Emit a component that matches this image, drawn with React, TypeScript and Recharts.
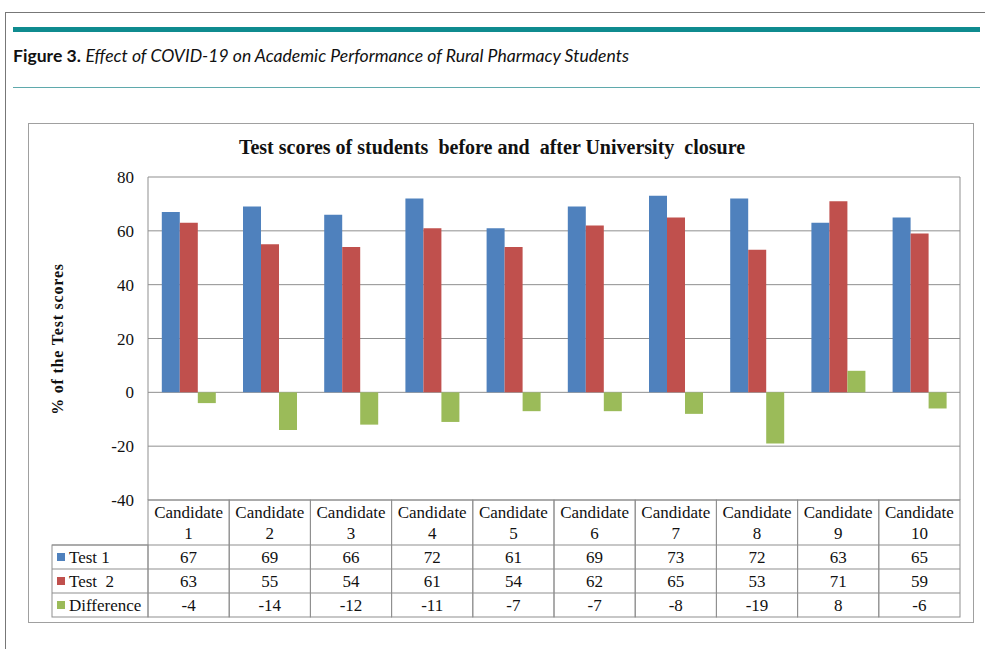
import {Bar, BarChart, CartesianGrid, XAxis, YAxis} from 'recharts';

const candidates = ['Candidate 1', 'Candidate 2', 'Candidate 3', 'Candidate 4', 'Candidate 5', 'Candidate 6', 'Candidate 7', 'Candidate 8', 'Candidate 9', 'Candidate 10'];
const test1 = [67, 69, 66, 72, 61, 69, 73, 72, 63, 65];
const test2 = [63, 55, 54, 61, 54, 62, 65, 53, 71, 59];
const difference = [-4, -14, -12, -11, -7, -7, -8, -19, 8, -6];
const yTicks = [-40, -20, 0, 20, 40, 60, 80];
const seriesNames = ['Test 1', 'Test  2', 'Difference'];
const seriesColors = ['#4f81bd', '#c0504d', '#9bbb59'];
const seriesValues = [test1, test2, difference];

const data = candidates.map((name, i) => ({
    name,
    test1: test1[i],
    test2: test2[i],
    difference: difference[i],
}));

const W = 985;
const H = 649;
const PLOT_LEFT = 148;
const PLOT_RIGHT = 960;
const PLOT_TOP = 177;
const PLOT_BOTTOM = 500;
const TABLE_H = 117;
const HEADER_H = 45;
const ROW_H = 24;
const YAXIS_W = 60;
const COL_W = (PLOT_RIGHT - PLOT_LEFT) / candidates.length;
const GRID = '#8f8f8f';
const SERIF = '"Liberation Serif", "Times New Roman", serif';

function TableTick(props: any) {
    const {x, y, payload} = props;
    const i = candidates.indexOf(payload.value);
    const left = x - COL_W / 2;
    const [word, num] = String(payload.value).split(' ');
    const txt = {fontFamily: SERIF, fontSize: 17, fill: '#111', textAnchor: 'middle' as const};
    return (
        <g>
            <rect x={left} y={y} width={COL_W} height={HEADER_H + ROW_H * 3} fill="none" stroke={GRID} />
            {[0, 1, 2].map(r => (
                <line key={r} x1={left} x2={left + COL_W} y1={y + HEADER_H + ROW_H * r} y2={y + HEADER_H + ROW_H * r} stroke={GRID} />
            ))}
            <text x={x} y={y + 18} {...txt}>{word}</text>
            <text x={x} y={y + 39} {...txt}>{num}</text>
            {seriesValues.map((vals, r) => (
                <text key={r} x={x} y={y + HEADER_H + ROW_H * r + 18} {...txt}>{vals[i]}</text>
            ))}
        </g>
    );
}

function Decorations() {
    const legendLeft = 52;
    const rowsTop = PLOT_BOTTOM + HEADER_H;
    return (
        <svg width={W} height={H} style={{position: 'absolute', left: 0, top: 0}}>
            <line x1={5} x2={W} y1={12.5} y2={12.5} stroke="#777" />
            <line x1={5.5} x2={5.5} y1={12} y2={H} stroke="#777" />
            <rect x={13} y={27} width={967} height={5} fill="#0f8b8f" />
            <line x1={13} x2={980} y1={87.5} y2={87.5} stroke="#5fa9ac" />
            <rect x={28.5} y={123.5} width={945} height={499} fill="none" stroke="#a0a0a0" />
            <text x={492} y={154} textAnchor="middle" fontFamily={SERIF} fontWeight="bold" fontSize={20} fill="#111" style={{whiteSpace: 'pre'}}>
                Test scores of students  before and  after University  closure
            </text>
            <text transform="translate(63,339) rotate(-90)" textAnchor="middle" fontFamily={SERIF} fontWeight="bold" fontSize={16} letterSpacing={0.8} fill="#111">
                % of the Test scores
            </text>
            <g>
                <rect x={legendLeft} y={rowsTop} width={PLOT_LEFT - legendLeft} height={ROW_H * 3} fill="none" stroke={GRID} />
                {seriesNames.map((n, r) => (
                    <g key={n}>
                        <line x1={legendLeft} x2={PLOT_LEFT} y1={rowsTop + ROW_H * r} y2={rowsTop + ROW_H * r} stroke={GRID} />
                        <rect x={legendLeft + 5} y={rowsTop + ROW_H * r + 8} width={8} height={8} fill={seriesColors[r]} />
                        <text x={legendLeft + 17} y={rowsTop + ROW_H * r + 18} fontFamily={SERIF} fontSize={17} fill="#111" style={{whiteSpace: 'pre'}}>{n}</text>
                    </g>
                ))}
            </g>
        </svg>
    );
}

export default function App() {
    return (
        <div style={{position: 'absolute', left: 0, top: 0, width: W, height: H, background: '#fff', overflow: 'hidden'}}>
            <Decorations />
            <div style={{position: 'absolute', left: 13, top: 45, fontFamily: 'Lato, "Open Sans", sans-serif', fontSize: 17.6, color: '#111', whiteSpace: 'nowrap'}}>
                <b>Figure 3.</b> <i>Effect of COVID-19 on Academic Performance of Rural Pharmacy Students</i>
            </div>
            <div style={{position: 'absolute', left: 0, top: 0}}>
                <BarChart
                    width={W}
                    height={H}
                    data={data}
                    barCategoryGap="17%"
                    barGap={0}
                    margin={{top: PLOT_TOP, right: W - PLOT_RIGHT, left: PLOT_LEFT - YAXIS_W, bottom: H - PLOT_BOTTOM - TABLE_H}}
                >
                    <CartesianGrid vertical={true} verticalPoints={[PLOT_LEFT, PLOT_RIGHT]} stroke={GRID} strokeOpacity={1} />
                    <XAxis dataKey="name" height={TABLE_H} interval={0} tickLine={false} axisLine={false} tickSize={0} tickMargin={0} tick={<TableTick />} />
                    <YAxis
                        width={YAXIS_W}
                        domain={[-40, 80]}
                        ticks={yTicks}
                        interval={0}
                        tickLine={false}
                        axisLine={false}
                        tickSize={0}
                        tickMargin={14}
                        tick={{fontFamily: SERIF, fontSize: 17, fill: '#111'}}
                    />
                    <Bar dataKey="test1" name={seriesNames[0]} fill={seriesColors[0]} isAnimationActive={false} />
                    <Bar dataKey="test2" name={seriesNames[1]} fill={seriesColors[1]} isAnimationActive={false} />
                    <Bar dataKey="difference" name={seriesNames[2]} fill={seriesColors[2]} isAnimationActive={false} />
                </BarChart>
            </div>
        </div>
    );
}
